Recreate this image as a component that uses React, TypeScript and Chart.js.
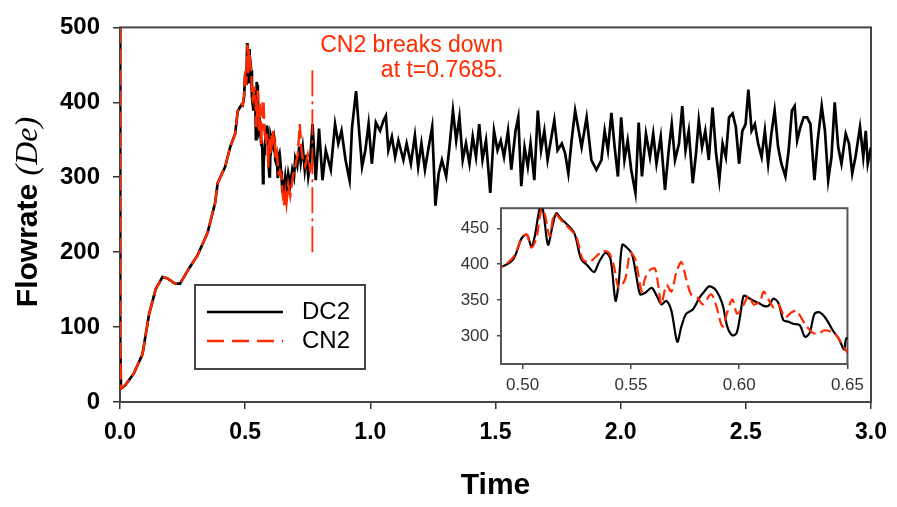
import React, { useEffect, useRef } from 'react';
import { Chart, registerables } from 'chart.js';

Chart.register(...registerables);

// ---------- axis ticks ----------
const xTicks = [0, 0.5, 1, 1.5, 2, 2.5, 3];
const yTicks = [0, 100, 200, 300, 400, 500];
const insetXTicks = [0.5, 0.55, 0.6, 0.65];
const insetYTicks = [300, 350, 400, 450];

// ---------- annotation ----------
const breakTime = [0.7685, 0.7685];
const breakFlow = [200, 443];
const breakText = ['CN2 breaks down', 'at t=0.7685.'];
const seriesNames = ['DC2', 'CN2'];

// ---------- shared start-up (both schemes identical) ----------
const riseTime = [0, 0.001, 0.004, 0.02, 0.055, 0.09, 0.116, 0.143, 0.17, 0.19, 0.22, 0.24, 0.275, 0.31, 0.35, 0.38, 0.39, 0.42, 0.44, 0.46, 0.47, 0.486];
const riseFlow = [500, 80, 18, 22, 38, 64, 117, 151, 167, 165, 158, 158, 178, 196, 226, 266, 292, 314, 340, 358, 388, 397];

// ---------- DC2 (black) ----------
const dc2InsetTime = [0.490, 0.4957, 0.4995, 0.502, 0.504, 0.5056, 0.508, 0.5094, 0.5117, 0.5137, 0.5155, 0.5178, 0.520, 0.5239, 0.527, 0.530, 0.533, 0.5353, 0.5383, 0.5406, 0.5429, 0.5444, 0.546, 0.5482, 0.5505, 0.5527, 0.5543, 0.5565, 0.5596, 0.5619, 0.5641, 0.5664, 0.5687, 0.5714, 0.5733, 0.5755, 0.5786, 0.5816, 0.5839, 0.5862, 0.5892, 0.5923, 0.5945, 0.5968, 0.5988, 0.6006, 0.6021, 0.6044, 0.6067, 0.609, 0.6113, 0.6135, 0.6158, 0.6181, 0.6204, 0.6227, 0.625, 0.628, 0.6303, 0.6325, 0.6348, 0.6371, 0.6401, 0.6432, 0.6462, 0.6485, 0.6496];
const dc2InsetFlow = [396, 407, 436, 441, 425, 439, 479, 475, 427, 452, 471, 463, 457, 443, 407, 398, 389, 403, 416, 407, 349, 376, 427, 423, 414, 380, 358, 360, 367, 356, 344, 349, 335, 292, 313, 331, 337, 353, 362, 369, 364, 344, 313, 301, 304, 331, 356, 353, 349, 346, 342, 342, 352, 346, 322, 320, 317, 315, 299, 304, 331, 333, 324, 308, 295, 281, 297];
const dc2MidTime = [0.655, 0.66, 0.665, 0.672, 0.68, 0.688, 0.695, 0.70, 0.708, 0.716, 0.722, 0.73, 0.738, 0.745, 0.752, 0.758];
const dc2MidFlow = [285, 300, 283, 305, 290, 310, 300, 325, 315, 341, 320, 340, 310, 330, 301, 315];
const dc2LateTimeA = [0.769, 0.782, 0.795, 0.809, 0.822, 0.842, 0.859, 0.872, 0.885, 0.901, 0.917, 0.927, 0.943, 0.954, 0.967, 0.980, 0.993, 1.006, 1.022, 1.039, 1.053, 1.062, 1.072, 1.086, 1.099, 1.112, 1.132, 1.145, 1.162, 1.178, 1.191, 1.204, 1.218, 1.233, 1.247, 1.260, 1.273, 1.286, 1.303, 1.316, 1.330, 1.343, 1.356, 1.369, 1.382, 1.396, 1.409, 1.422, 1.435, 1.448, 1.462, 1.479, 1.494, 1.508, 1.521, 1.534, 1.550, 1.563, 1.580, 1.591, 1.603, 1.616, 1.629, 1.640, 1.655, 1.669, 1.682, 1.695, 1.708, 1.721, 1.735, 1.748, 1.765, 1.778, 1.791, 1.804, 1.818];
const dc2LateFlowA = [371, 296, 365, 296, 336, 310, 371, 345, 362, 323, 296, 367, 415, 367, 314, 336, 371, 318, 373, 362, 376, 382, 336, 354, 327, 349, 323, 345, 318, 356, 314, 345, 310, 340, 367, 262, 305, 323, 301, 340, 389, 349, 380, 323, 345, 318, 354, 327, 371, 323, 349, 279, 362, 336, 349, 327, 362, 310, 362, 380, 288, 340, 314, 345, 296, 389, 336, 362, 323, 349, 376, 336, 345, 332, 305, 349, 389];
const dc2LateTimeB = [1.844, 1.864, 1.883, 1.903, 1.923, 1.936, 1.949, 1.963, 1.976, 1.989, 2.002, 2.015, 2.028, 2.042, 2.059, 2.072, 2.085, 2.101, 2.117, 2.130, 2.143, 2.160, 2.177, 2.193, 2.204, 2.217, 2.233, 2.246, 2.259, 2.272, 2.288, 2.301, 2.312, 2.325, 2.338, 2.352, 2.367, 2.381, 2.394, 2.407, 2.420, 2.433, 2.447, 2.460, 2.473, 2.486, 2.499, 2.510, 2.523, 2.536, 2.549, 2.563, 2.576, 2.589, 2.602, 2.615, 2.629, 2.642, 2.658, 2.671, 2.684, 2.695, 2.705, 2.718, 2.731, 2.745, 2.758, 2.774, 2.787, 2.803, 2.816, 2.829, 2.842, 2.855, 2.869, 2.882, 2.899, 2.912, 2.925, 2.938, 2.956, 2.969, 2.979, 2.987, 3.0];
const dc2LateFlowB = [340, 380, 323, 310, 323, 362, 336, 386, 340, 301, 380, 323, 349, 310, 279, 373, 301, 358, 327, 358, 318, 354, 283, 340, 371, 323, 345, 395, 336, 362, 292, 332, 376, 340, 362, 323, 393, 332, 296, 345, 327, 380, 385, 367, 318, 362, 371, 417, 362, 371, 345, 327, 362, 318, 358, 389, 340, 318, 301, 336, 389, 395, 349, 367, 380, 380, 371, 296, 349, 395, 362, 296, 327, 400, 340, 318, 358, 345, 305, 327, 367, 327, 362, 318, 340];

// ---------- CN2 (red, dashed) ----------
const cn2InsetTime = [0.49, 0.4957, 0.50, 0.502, 0.504, 0.5064, 0.5087, 0.5102, 0.5125, 0.5147, 0.5185, 0.5246, 0.5277, 0.5307, 0.5337, 0.5368, 0.5398, 0.5421, 0.5444, 0.5474, 0.5497, 0.552, 0.555, 0.5565, 0.5588, 0.5611, 0.5626, 0.5641, 0.5664, 0.5687, 0.571, 0.5733, 0.5755, 0.5778, 0.5809, 0.5832, 0.587, 0.5892, 0.5923, 0.5945, 0.5968, 0.5991, 0.6021, 0.6044, 0.6067, 0.6097, 0.6113, 0.6135, 0.6158, 0.6181, 0.6212, 0.6242, 0.6265, 0.6303, 0.6341, 0.6371, 0.6394, 0.644, 0.6462, 0.65];
const cn2InsetFlow = [396, 410, 439, 441, 423, 437, 477, 470, 439, 470, 459, 439, 407, 403, 410, 418, 416, 398, 367, 380, 416, 407, 362, 380, 392, 394, 371, 344, 371, 362, 389, 403, 380, 358, 353, 344, 358, 344, 313, 333, 351, 331, 344, 356, 344, 349, 362, 351, 340, 344, 326, 333, 335, 317, 304, 304, 308, 304, 295, 277];
const cn2LateTime = [0.655, 0.66, 0.665, 0.672, 0.68, 0.69, 0.70, 0.71, 0.718, 0.724, 0.73, 0.74, 0.75, 0.76, 0.7685];
const cn2LateFlow = [262, 280, 265, 290, 275, 300, 315, 330, 371, 340, 325, 315, 330, 310, 318];

const pts = (ts: number[], vs: number[]) => ts.map((t, i) => ({ x: t, y: vs[i] }));
const dc2Points = [
  ...pts(riseTime, riseFlow),
  ...pts(dc2InsetTime, dc2InsetFlow),
  ...pts(dc2MidTime, dc2MidFlow),
  ...pts(dc2LateTimeA, dc2LateFlowA),
  ...pts(dc2LateTimeB, dc2LateFlowB),
];
const cn2Points = [...pts(riseTime, riseFlow), ...pts(cn2InsetTime, cn2InsetFlow), ...pts(cn2LateTime, cn2LateFlow)];
const breakPoints = pts(breakTime, breakFlow);

const RED = '#ff2a00';
const FONT = '"Liberation Sans", Arial, sans-serif';

const mainDecor = {
  id: 'mainDecor',
  beforeDatasetsDraw(chart: any) {
    const { ctx, chartArea: a } = chart;
    ctx.save();
    ctx.strokeStyle = '#444';
    ctx.lineWidth = 2;
    ctx.strokeRect(a.left, a.top, a.right - a.left, a.bottom - a.top);
    ctx.restore();
  },
  afterDraw(chart: any) {
    const { ctx, chartArea: a } = chart;
    ctx.save();
    // x title
    ctx.fillStyle = '#000';
    ctx.font = `bold 30px ${FONT}`;
    ctx.textAlign = 'center';
    ctx.textBaseline = 'alphabetic';
    ctx.fillText('Time', (a.left + a.right) / 2, 494);
    // y title
    ctx.save();
    ctx.font = `bold 30px ${FONT}`;
    const w1 = ctx.measureText('Flowrate ').width;
    ctx.font = `italic 32px "Liberation Serif", serif`;
    const w2 = ctx.measureText('(De)').width;
    const total = w1 + w2;
    ctx.translate(37, 212 + total / 2);
    ctx.rotate(-Math.PI / 2);
    ctx.textAlign = 'left';
    ctx.font = `bold 30px ${FONT}`;
    ctx.fillText('Flowrate ', 0, 0);
    ctx.font = `italic 32px "Liberation Serif", serif`;
    ctx.fillText('(De)', w1, 0);
    ctx.restore();
    // legend box
    ctx.strokeStyle = '#444';
    ctx.lineWidth = 2;
    ctx.strokeRect(195, 285, 170, 84);
    ctx.lineWidth = 2.5;
    ctx.strokeStyle = '#000';
    ctx.beginPath();
    ctx.moveTo(207, 312);
    ctx.lineTo(283, 312);
    ctx.stroke();
    ctx.strokeStyle = RED;
    ctx.setLineDash([17, 8]);
    ctx.beginPath();
    ctx.moveTo(207, 341);
    ctx.lineTo(283, 341);
    ctx.stroke();
    ctx.setLineDash([]);
    ctx.fillStyle = '#000';
    ctx.font = `24px ${FONT}`;
    ctx.textAlign = 'left';
    ctx.textBaseline = 'middle';
    ctx.fillText(seriesNames[0], 302, 312);
    ctx.fillText(seriesNames[1], 302, 341);
    // annotation
    ctx.fillStyle = RED;
    ctx.font = `23px ${FONT}`;
    ctx.textAlign = 'right';
    ctx.textBaseline = 'alphabetic';
    ctx.fillText(breakText[0], 503, 52);
    ctx.fillText(breakText[1], 503, 77);
    ctx.restore();
  },
};

const insetDecor = {
  id: 'insetDecor',
  beforeDatasetsDraw(chart: any) {
    const { ctx, chartArea: a } = chart;
    ctx.save();
    ctx.fillStyle = '#fff';
    ctx.fillRect(a.left, a.top, a.right - a.left, a.bottom - a.top);
    ctx.strokeStyle = '#555';
    ctx.lineWidth = 2;
    ctx.strokeRect(a.left, a.top, a.right - a.left, a.bottom - a.top);
    ctx.restore();
  },
};

export default function App() {
  const mainRef = useRef<HTMLCanvasElement>(null);
  const insetRef = useRef<HTMLCanvasElement>(null);

  useEffect(() => {
    const main = new Chart(mainRef.current as HTMLCanvasElement, {
      type: 'line',
      data: {
        datasets: [
          { label: 'break', data: breakPoints, borderColor: RED, borderWidth: 1.8, borderDash: [26, 5, 3, 5], pointRadius: 0, order: 0 },
          { label: seriesNames[1], data: cn2Points, borderColor: RED, borderWidth: 2.4, borderDash: [16, 5], pointRadius: 0, tension: 0, order: 1 },
          { label: seriesNames[0], data: dc2Points, borderColor: '#000', borderWidth: 2.7, pointRadius: 0, tension: 0, order: 2 },
        ],
      },
      options: {
        responsive: false,
        animation: false,
        devicePixelRatio: 1,
        layout: { padding: { left: 0, top: 22, right: 25, bottom: 0 } },
        plugins: { legend: { display: false }, tooltip: { enabled: false } },
        scales: {
          x: {
            type: 'linear',
            min: 0,
            max: 3,
            afterBuildTicks: (s: any) => { s.ticks = xTicks.map((v) => ({ value: v })); },
            afterFit: (s: any) => { s.height = 105; },
            ticks: { color: '#000', font: { family: FONT, size: 23, weight: 'bold' }, padding: 10, maxRotation: 0, callback: (v: any) => Number(v).toFixed(1) },
            grid: { display: true, drawOnChartArea: false, drawTicks: true, tickLength: 7, color: '#333', lineWidth: 1.5 },
            border: { display: false },
          },
          y: {
            type: 'linear',
            min: 0,
            max: 500,
            afterBuildTicks: (s: any) => { s.ticks = yTicks.map((v) => ({ value: v })); },
            afterFit: (s: any) => { s.width = 120; },
            ticks: { color: '#000', font: { family: FONT, size: 24, weight: 'bold' }, padding: 13, callback: (v: any) => String(v) },
            grid: { display: true, drawOnChartArea: false, drawTicks: true, tickLength: 7, color: '#333', lineWidth: 1.5 },
            border: { display: false },
          },
        },
      },
      plugins: [mainDecor],
    } as any);

    const inset = new Chart(insetRef.current as HTMLCanvasElement, {
      type: 'line',
      data: {
        datasets: [
          { label: seriesNames[1], data: cn2Points, borderColor: RED, borderWidth: 2.2, borderDash: [11, 5], pointRadius: 0, tension: 0.3, order: 0 },
          { label: seriesNames[0], data: dc2Points, borderColor: '#000', borderWidth: 2.2, pointRadius: 0, tension: 0.3, order: 1 },
        ],
      },
      options: {
        responsive: false,
        animation: false,
        devicePixelRatio: 1,
        layout: { padding: { left: 0, top: 12, right: 18, bottom: 0 } },
        plugins: { legend: { display: false }, tooltip: { enabled: false } },
        scales: {
          x: {
            type: 'linear',
            min: 0.49,
            max: 0.65,
            afterBuildTicks: (s: any) => { s.ticks = insetXTicks.map((v) => ({ value: v })); },
            afterFit: (s: any) => { s.height = 36; },
            ticks: { color: '#333', font: { family: FONT, size: 17 }, padding: 6, maxRotation: 0, callback: (v: any) => Number(v).toFixed(2) },
            grid: { display: true, drawOnChartArea: false, drawTicks: true, tickLength: 5, color: '#444', lineWidth: 1.5 },
            border: { display: false },
          },
          y: {
            type: 'linear',
            min: 261,
            max: 478,
            afterBuildTicks: (s: any) => { s.ticks = insetYTicks.map((v) => ({ value: v })); },
            afterFit: (s: any) => { s.width = 71; },
            ticks: { color: '#333', font: { family: FONT, size: 17 }, padding: 8, callback: (v: any) => String(v) },
            grid: { display: true, drawOnChartArea: false, drawTicks: true, tickLength: 4, color: '#444', lineWidth: 1.5 },
            border: { display: false },
          },
        },
      },
      plugins: [insetDecor],
    } as any);

    return () => {
      main.destroy();
      inset.destroy();
    };
  }, []);

  return (
    <div style={{ position: 'absolute', left: 0, top: 0, width: 897, height: 507, background: '#fff' }}>
      <canvas ref={mainRef} width={897} height={507} style={{ position: 'absolute', left: 0, top: 0 }} />
      <canvas ref={insetRef} width={440} height={210} style={{ position: 'absolute', left: 430, top: 190 }} />
    </div>
  );
}
